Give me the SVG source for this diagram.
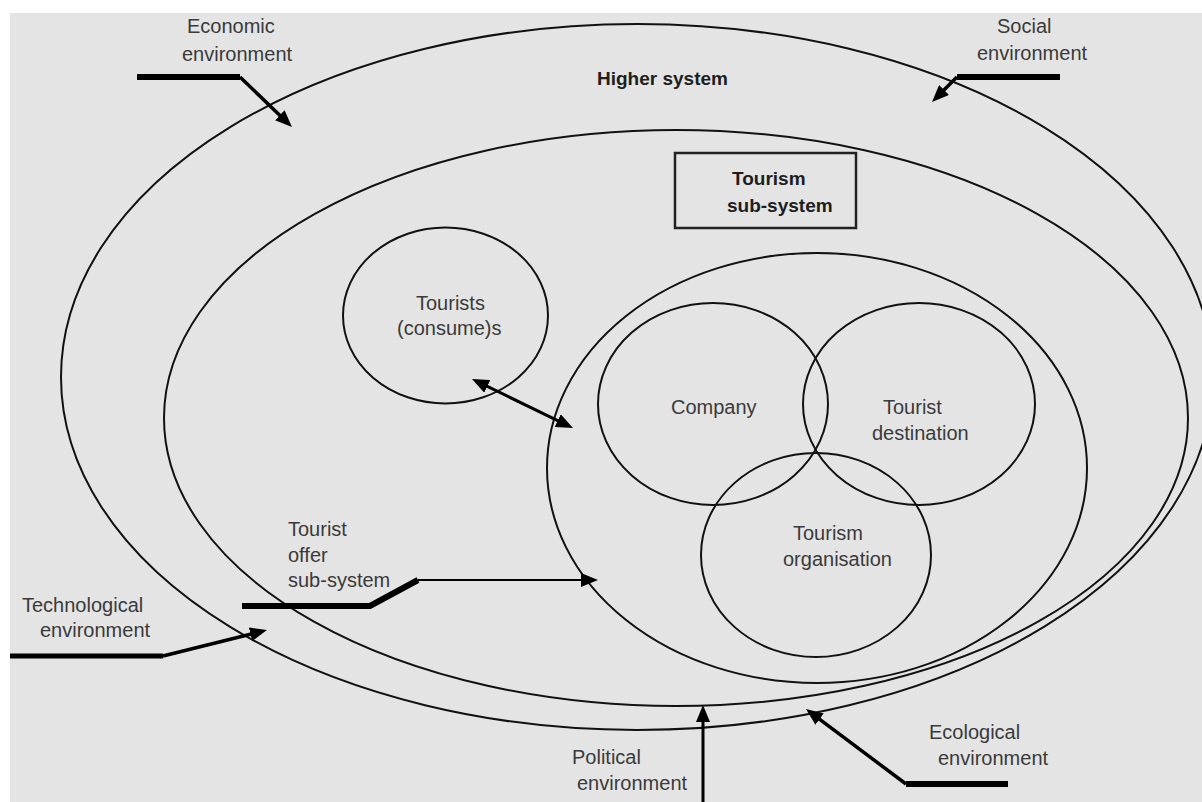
<svg xmlns="http://www.w3.org/2000/svg" width="1202" height="802" viewBox="0 0 1202 802">
<style>
.shape{fill:none;stroke:#111;stroke-width:2}
.box{fill:none;stroke:#222;stroke-width:2.5}
.t{font-family:"Liberation Sans",Arial,sans-serif;font-size:20px;fill:#3a3a3a}
.b{font-family:"Liberation Sans",Arial,sans-serif;font-size:19px;font-weight:bold;fill:#1e1e1e}
.bar{fill:none;stroke:#000;stroke-width:6}
.thin{fill:none;stroke:#000;stroke-width:3.5;marker-end:url(#ah)}
</style>
<defs>
<marker id="ah" markerUnits="userSpaceOnUse" markerWidth="18" markerHeight="14" refX="4" refY="7" orient="auto">
<path d="M0,0 L17,7 L0,14 z" fill="#000"/>
</marker>
<marker id="ahs" markerUnits="userSpaceOnUse" markerWidth="18" markerHeight="14" refX="4" refY="7" orient="auto-start-reverse">
<path d="M0,0 L17,7 L0,14 z" fill="#000"/>
</marker>
</defs>
<rect x="0" y="0" width="1202" height="802" fill="#ffffff"/>
<rect x="10" y="13" width="1192" height="789" fill="#e4e4e4"/>

<g id="higher-system">
<ellipse class="shape" cx="637" cy="377" rx="576" ry="353"/>
<text class="b" x="597" y="85">Higher system</text>
</g>
<g id="tourism-sub-system">
<ellipse class="shape" cx="676" cy="418" rx="512" ry="288"/>
<rect class="box" x="675" y="153" width="181" height="75"/>
<text class="b" x="732" y="185">Tourism</text>
<text class="b" x="727" y="212">sub-system</text>
</g>
<g id="tourists">
<ellipse class="shape" cx="445.5" cy="315.5" rx="102.5" ry="88"/>
<text class="t" x="416" y="310">Tourists</text>
<text class="t" x="397" y="335">(consume)s</text>
</g>
<g id="tourist-offer-sub-system">
<ellipse class="shape" cx="817" cy="468" rx="270" ry="215"/>
<text class="t" x="288" y="536">Tourist</text>
<text class="t" x="288" y="562">offer</text>
<text class="t" x="288" y="587">sub-system</text>
</g>
<g id="company">
<ellipse class="shape" cx="713" cy="404" rx="115" ry="101"/>
<text class="t" x="671" y="414">Company</text>
</g>
<g id="tourist-destination">
<ellipse class="shape" cx="919" cy="404" rx="116" ry="101"/>
<text class="t" x="883" y="414">Tourist</text>
<text class="t" x="872" y="440">destination</text>
</g>
<g id="tourism-organisation">
<ellipse class="shape" cx="816" cy="555" rx="115" ry="102"/>
<text class="t" x="793" y="540">Tourism</text>
<text class="t" x="783" y="566">organisation</text>
</g>
<g id="economic-environment">
<text class="t" x="187" y="33">Economic</text>
<text class="t" x="182" y="61">environment</text>
</g>
<g id="social-environment">
<text class="t" x="997" y="33">Social</text>
<text class="t" x="977" y="60">environment</text>
</g>
<g id="technological-environment">
<text class="t" x="22" y="612">Technological</text>
<text class="t" x="40" y="637">environment</text>
</g>
<g id="political-environment">
<text class="t" x="572" y="764">Political</text>
<text class="t" x="577" y="790">environment</text>
</g>
<g id="ecological-environment">
<text class="t" x="929" y="739">Ecological</text>
<text class="t" x="938" y="765">environment</text>
</g>

<g id="connectors">
<path class="bar" d="M137,77 H240"/>
<path class="thin" d="M240,77 L282.6,118"/>
<path class="bar" d="M957,77 H1060"/>
<path class="thin" d="M957,77 L941.2,92.8"/>
<path class="bar" d="M10,656 H163" style="stroke-width:5"/>
<path class="thin" d="M163,656 L254.4,633.2"/>
<path class="bar" d="M242,606 H370 L418,580"/>
<path class="thin" d="M418,580 H585" style="stroke-width:2"/>
<path class="thin" d="M483.7,384.7 L561.3,422.3" style="stroke-width:3;marker-start:url(#ahs)"/>
<path class="thin" d="M703,802 V718" style="stroke-width:3"/>
<path class="bar" d="M906,784 H1008"/>
<path class="thin" d="M906,784 L816.4,716.8"/>
</g>
</svg>
